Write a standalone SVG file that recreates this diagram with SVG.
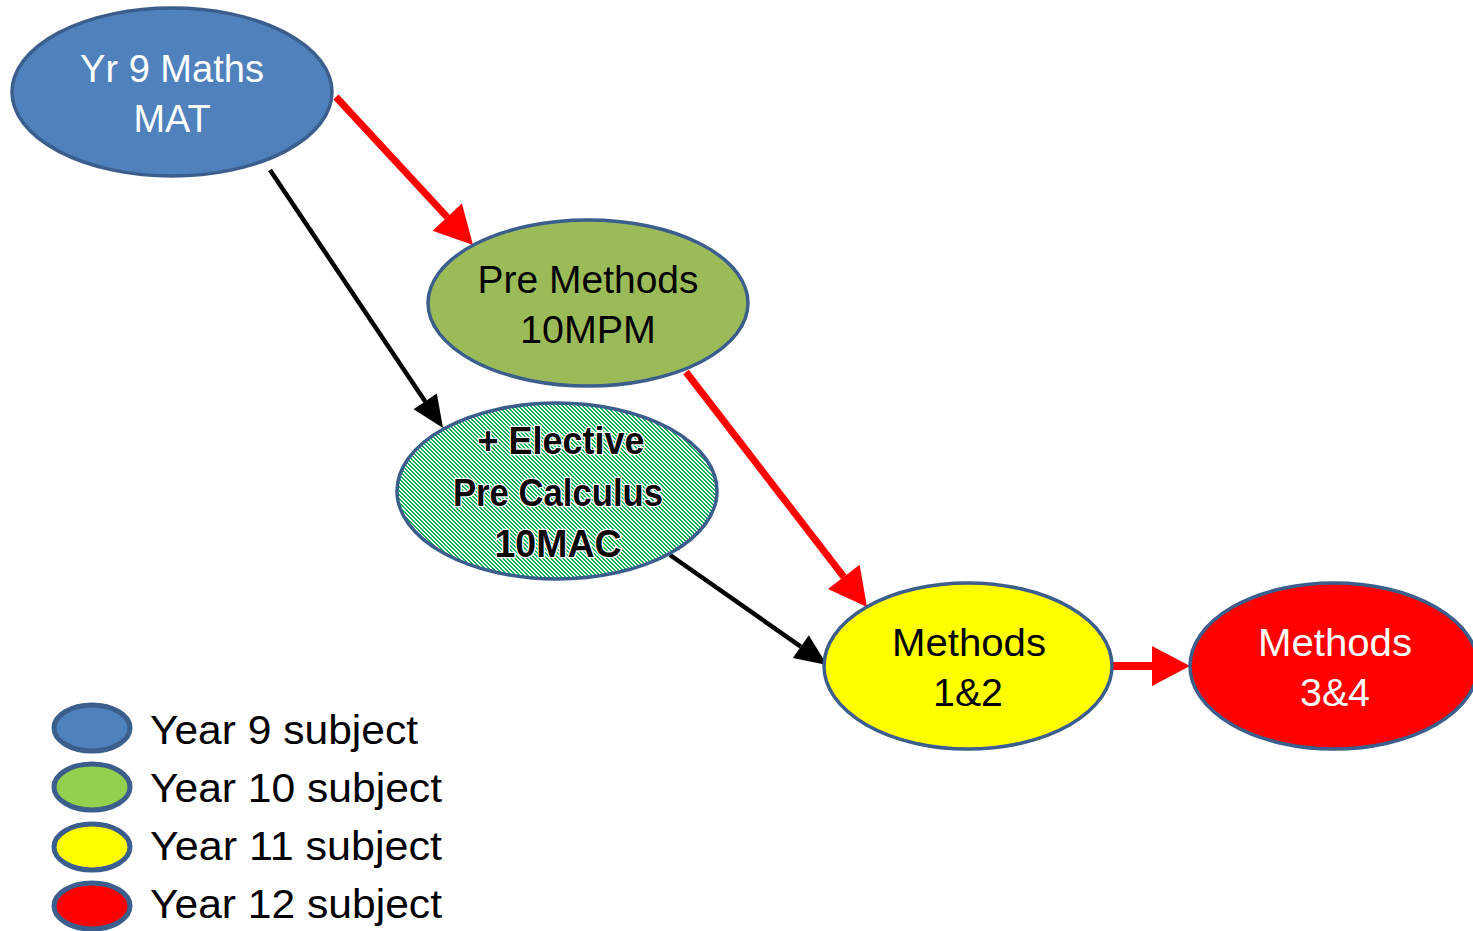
<svg xmlns="http://www.w3.org/2000/svg" width="1473" height="931" viewBox="0 0 1473 931">
<style>
.node{stroke:#3B5E8C;stroke-width:3.5}
.t{font-family:"Liberation Sans",Arial,sans-serif;font-size:38px;text-anchor:middle}
.lt{font-family:"Liberation Sans",Arial,sans-serif;font-size:40px;fill:#000}
.red{stroke:#FF0000;stroke-width:7;fill:none}
.blk{stroke:#000;stroke-width:4.5;fill:none}
.leg{stroke:#3B5E8C;stroke-width:5}
</style>
<defs>
<pattern id="hatch" patternUnits="userSpaceOnUse" x="0" y="0" width="4" height="4">
<g shape-rendering="crispEdges" fill="#00B050">
<rect width="4" height="4" fill="#fff"/>
<rect x="0" y="0" width="2" height="1"/>
<rect x="1" y="1" width="2" height="1"/>
<rect x="2" y="2" width="2" height="1"/>
<rect x="3" y="3" width="1" height="1"/>
<rect x="0" y="3" width="1" height="1"/>
</g>
</pattern>
<marker id="rh" markerUnits="userSpaceOnUse" markerWidth="40" markerHeight="42" refX="0" refY="21" orient="auto" overflow="visible">
<path d="M0,1 L38,21 L0,41 z" fill="#FF0000"/>
</marker>
<marker id="bh" markerUnits="userSpaceOnUse" markerWidth="34" markerHeight="30" refX="0" refY="15" orient="auto" overflow="visible">
<path d="M0,1 L32,15 L0,29 z" fill="#000"/>
</marker>
</defs>
<rect width="1473" height="931" fill="#fff"/>
<g id="connectors">
<line class="red" x1="336" y1="97" x2="447.2" y2="217.1" marker-end="url(#rh)"/>
<line class="blk" x1="270" y1="170" x2="425.2" y2="401.4" marker-end="url(#bh)"/>
<line class="red" x1="686" y1="372" x2="843.8" y2="576.9" marker-end="url(#rh)"/>
<line class="blk" x1="670" y1="555" x2="800.8" y2="646.6" marker-end="url(#bh)"/>
<line class="red" x1="1113" y1="666" x2="1152" y2="666" style="stroke-width:8" marker-end="url(#rh)"/>
</g>
<g id="yr9">
<ellipse class="node" cx="172" cy="92" rx="160" ry="84" fill="#4F81BD"/>
<text class="t" x="172" y="82" fill="#fff" textLength="184" lengthAdjust="spacingAndGlyphs">Yr 9 Maths</text>
<text class="t" x="172" y="132" fill="#fff" textLength="77" lengthAdjust="spacingAndGlyphs">MAT</text>
</g>
<g id="premethods">
<ellipse class="node" cx="588" cy="303" rx="160" ry="83" fill="#9BBB59"/>
<text class="t" x="588" y="293" fill="#000" textLength="221" lengthAdjust="spacingAndGlyphs">Pre Methods</text>
<text class="t" x="588" y="343" fill="#000" textLength="136" lengthAdjust="spacingAndGlyphs">10MPM</text>
</g>
<g id="precalc">
<ellipse class="node" cx="557" cy="491" rx="160" ry="88" fill="url(#hatch)"/>
<g style="font-weight:bold;stroke:#fff;stroke-width:2.5;paint-order:stroke">
<text class="t" x="561" y="454" fill="#000" textLength="167" lengthAdjust="spacingAndGlyphs">+ Elective</text>
<text class="t" x="558" y="506" fill="#000" textLength="210" lengthAdjust="spacingAndGlyphs">Pre Calculus</text>
<text class="t" x="558" y="557" fill="#000" textLength="127" lengthAdjust="spacingAndGlyphs">10MAC</text>
</g>
</g>
<g id="methods12">
<ellipse class="node" cx="968" cy="666" rx="144" ry="83" fill="#FFFF00"/>
<text class="t" x="969" y="656" fill="#000" textLength="154" lengthAdjust="spacingAndGlyphs">Methods</text>
<text class="t" x="968" y="706" fill="#000" textLength="70" lengthAdjust="spacingAndGlyphs">1&amp;2</text>
</g>
<g id="methods34">
<ellipse class="node" cx="1334" cy="666" rx="144" ry="83" fill="#FF0000"/>
<text class="t" x="1335" y="656" fill="#fff" textLength="154" lengthAdjust="spacingAndGlyphs">Methods</text>
<text class="t" x="1335" y="706" fill="#fff" textLength="70" lengthAdjust="spacingAndGlyphs">3&amp;4</text>
</g>
<g id="legend">
<ellipse class="leg" cx="92" cy="728" rx="38" ry="23" fill="#4F81BD"/>
<text class="lt" x="150" y="744" textLength="268" lengthAdjust="spacingAndGlyphs">Year 9 subject</text>
<ellipse class="leg" cx="92" cy="787" rx="38" ry="23" fill="#92D050"/>
<text class="lt" x="150" y="802" textLength="292" lengthAdjust="spacingAndGlyphs">Year 10 subject</text>
<ellipse class="leg" cx="92" cy="847" rx="38" ry="23" fill="#FFFF00"/>
<text class="lt" x="150" y="860" textLength="292" lengthAdjust="spacingAndGlyphs">Year 11 subject</text>
<ellipse class="leg" cx="92" cy="906" rx="38" ry="23" fill="#FF0000"/>
<text class="lt" x="150" y="918" textLength="292" lengthAdjust="spacingAndGlyphs">Year 12 subject</text>
</g>
</svg>
